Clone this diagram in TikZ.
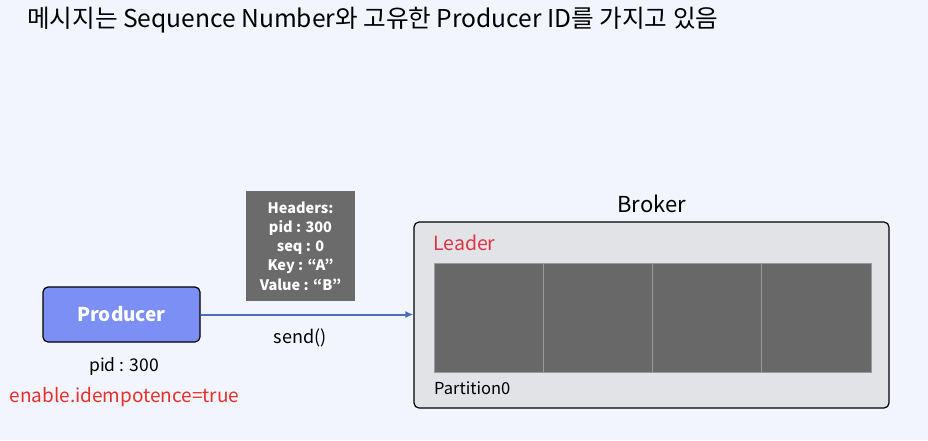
\documentclass[tikz,border=0pt]{standalone}
\usepackage{fontspec}
\setmainfont{Noto Sans CJK KR}
\usepackage{tikz}
\usetikzlibrary{arrows.meta}
\usetikzlibrary{positioning}
\definecolor{bgblue}{HTML}{F2F5FD}
\definecolor{prodblue}{HTML}{7B8FF5}
\definecolor{arrowblue}{HTML}{4A6FC0}
\definecolor{hdrgray}{HTML}{6B6B6B}
\definecolor{brokergray}{HTML}{E2E3E7}
\definecolor{cellgray}{HTML}{686868}
\definecolor{idemred}{HTML}{E8302A}
\definecolor{leaderred}{HTML}{DC3545}

\begin{document}
\begin{tikzpicture}[x=1pt,y=-1pt]
\tikzstyle{box}=[draw=black,line width=1.2pt,rounded corners=5pt]
\tikzstyle{cell}=[draw=gray!80,line width=0.8pt,fill=cellgray,minimum width=109pt,minimum height=109pt,inner sep=0pt]
\tikzstyle{lbl}=[inner sep=0pt,font=\fontsize{16.5}{19}\selectfont]
% canvas
\fill [bgblue] (0,0) rectangle (928,440);
\node [anchor=west,inner sep=0pt,font=\fontsize{24.6}{28}\selectfont] (title) at (27,20)
  {메시지는 Sequence Number와 고유한 Producer ID를 가지고 있음};
% producer
\node [box,fill=prodblue,minimum width=157pt,minimum height=55pt,text=white,font=\fontsize{19}{22}\bfseries] (producer) at (121.5,314.5) {Producer};
\node [lbl,font=\fontsize{17.5}{20}\selectfont] (pid) at (124,367) {pid : 300};
\node [lbl,text=idemred,font=\fontsize{19}{22}\selectfont] (idem) at (124.5,397) {enable.idempotence=true};
% message headers
\node [fill=hdrgray,minimum width=109pt,minimum height=110pt,inner sep=0pt,text=white,align=center,
  font=\fontsize{14.5}{19.3}\bfseries] (headers) at (300.5,246)
  {Headers:\\pid : 300\\seq : 0\\Key : “A”\\Value : “B”};
% broker
\node [box,fill=brokergray,minimum width=475pt,minimum height=186pt] (broker) at (651.5,315) {};
\node [lbl,font=\fontsize{22}{26}\selectfont,above=8pt of broker.north] (brokerlbl) {Broker};
\node [lbl,text=leaderred,anchor=west,font=\fontsize{19.5}{22}\selectfont] (leader) at (433,243) {Leader};
\foreach \i in {0,...,3}
  \node [cell,minimum width=109.25pt] (cell\i) at (434+54.6+109.25*\i,317.5) {};
\node [lbl,anchor=west] (part) at (434,388) {Partition0};
% send
\coordinate (target) at (broker.west |- producer.east);
\draw [arrowblue,line width=2pt,-{Latex[length=8pt,width=7pt]}] (producer.east) -- (target);
\node [lbl,font=\fontsize{18}{21}\selectfont] (send) at (300,338) {send()};
\end{tikzpicture}
\end{document}
